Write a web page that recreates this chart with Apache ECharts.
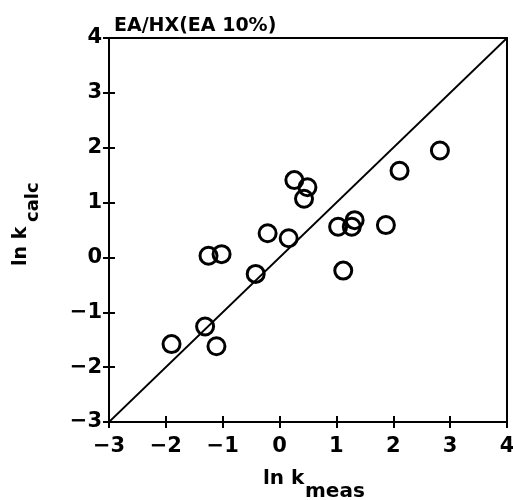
<!DOCTYPE html>
<html>
<head>
<meta charset="utf-8">
<script src="https://cdn.jsdelivr.net/npm/echarts@6/dist/echarts.min.js"></script>
<style>
  html, body { margin: 0; padding: 0; background: #fff; }
  #chart { width: 513px; height: 500px; }
</style>
</head>
<body>
<div id="chart"></div>
<script>
// measured vs calculated ln k
var measX = [2.82, 2.11, 0.26, 0.49, 0.43, -0.21, 0.16, 1.03, 1.27, 1.32, 1.87, -1.25, -1.02, -0.42, 1.12, -1.31, -1.90, -1.11];
var calcY = [1.95, 1.58, 1.41, 1.28, 1.07, 0.44, 0.35, 0.56, 0.56, 0.68, 0.59, 0.03, 0.06, -0.30, -0.24, -1.26, -1.58, -1.62];
// y = x reference line
var lineX = [-3, 4];
var lineY = [-3, 4];
var axisMin = -3, axisMax = 4;

var FONT = 'DejaVu Sans';
var black = '#000';

var points = measX.map(function (x, i) { return [x, calcY[i]]; });
var diag = lineX.map(function (x, i) { return [x, lineY[i]]; });

function minus(v) {
  return String(v).replace('-', '\u2212');
}

function makeAxis(inside, showLabel, pos) {
  return {
    type: 'value',
    position: pos,
    min: axisMin,
    max: axisMax,
    interval: 1,
    axisLine: { show: true, onZero: false, lineStyle: { color: black, width: 2 } },
    axisTick: { show: true, inside: inside, length: 6, lineStyle: { color: black, width: 2 } },
    axisLabel: {
      show: showLabel,
      formatter: minus,
      color: black,
      fontFamily: FONT,
      fontWeight: 'bold',
      fontSize: 21,
      margin: pos === 'bottom' ? 14 : 7
    },
    splitLine: { show: false }
  };
}

var myChart = echarts.init(document.getElementById('chart'));
myChart.setOption({
  animation: false,
  backgroundColor: '#fff',
  title: {
    text: 'EA/HX(EA 10%)',
    left: 109,
    top: 12,
    textStyle: { color: black, fontFamily: FONT, fontWeight: 'bold', fontSize: 19 }
  },
  grid: {
    left: 109,
    right: 6,
    top: 38,
    bottom: 78,
    outerBoundsMode: 'none',
    containLabel: false,
    show: true,
    borderColor: black,
    borderWidth: 2
  },
  xAxis: [makeAxis(false, true, 'bottom'), makeAxis(true, false, 'bottom')],
  yAxis: [makeAxis(false, true, 'left'), makeAxis(true, false, 'left')],
  graphic: [
    {
      type: 'text', left: 263, top: 469,
      style: { text: 'ln k', fill: black, font: 'bold 20px "DejaVu Sans"' }
    },
    {
      type: 'text', left: 305, top: 482,
      style: { text: 'meas', fill: black, font: 'bold 20px "DejaVu Sans"' }
    },
    {
      type: 'group', x: 12, y: 266, rotation: Math.PI / 2,
      children: [
        { type: 'text', x: 0, y: 0, style: { text: 'ln k', fill: black, font: 'bold 19px "DejaVu Sans"', textVerticalAlign: 'top' } },
        { type: 'text', x: 44, y: 12, style: { text: 'calc', fill: black, font: 'bold 18px "DejaVu Sans"', textVerticalAlign: 'top' } }
      ]
    }
  ],
  series: [
    {
      type: 'line',
      data: diag,
      symbol: 'none',
      lineStyle: { color: black, width: 1.8 },
      silent: true
    },
    {
      type: 'scatter',
      data: points,
      symbol: 'circle',
      symbolSize: 17,
      itemStyle: { color: 'rgba(0,0,0,0)', borderColor: black, borderWidth: 3, opacity: 1 }
    }
  ]
});
</script>
</body>
</html>
